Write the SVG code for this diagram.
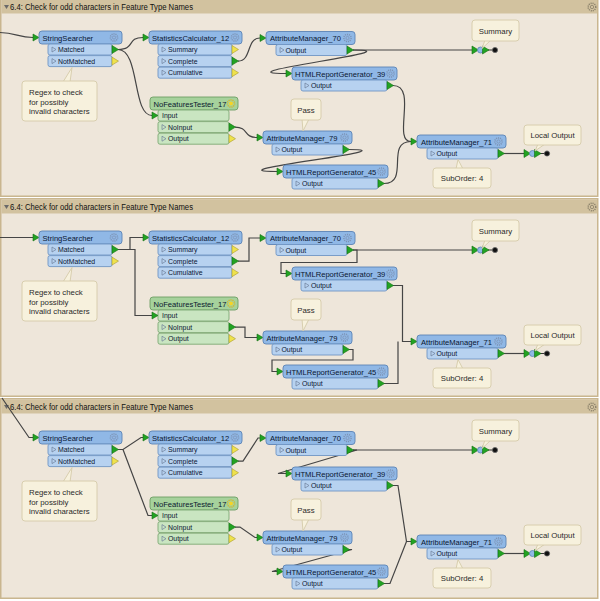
<svg xmlns="http://www.w3.org/2000/svg" width="600" height="601" viewBox="0 0 600 601">
<style>
.pbg{fill:#eee6da;stroke:#c9b68f;stroke-width:1.5}
.tbar{fill:#d2c29f}
.ttl{font-family:"Liberation Sans",Arial,sans-serif;font-size:8.3px;fill:#111}
.hb{fill:#90b8e6;stroke:#5b83b5;stroke-width:0.9}
.pb{fill:#b7d2f0;stroke:#6f95c4;stroke-width:0.9}
.ghb{fill:#a6d29c;stroke:#6e9e64;stroke-width:0.9}
.gpb{fill:#c9e5c1;stroke:#7ea874;stroke-width:0.9}
.ht{font-family:"Liberation Sans",Arial,sans-serif;font-size:7.6px;fill:#0a1630}
.pt{font-family:"Liberation Sans",Arial,sans-serif;font-size:6.9px;fill:#0a1630}
.an{fill:#f7f1dd;stroke:#d5cba9;stroke-width:0.9}
.at{font-family:"Liberation Sans",Arial,sans-serif;font-size:7.8px;fill:#2a2a2a}
.cn{fill:none;stroke:#454545;stroke-width:1.2}
</style>
<defs>
<path id="og" d="M0,-4 L6.5,0 L0,4Z" fill="#22a322" stroke="#146e14" stroke-width="0.6"/>
<path id="oy" d="M0,-4 L6.5,0 L0,4Z" fill="#efe24c" stroke="#a89c2e" stroke-width="0.6"/>
<path id="ig" d="M-6,-3.5 L0,0 L-6,3.5Z" fill="#22a322" stroke="#146e14" stroke-width="0.6"/>
<path id="tri" d="M0,-2.5 L4,0 L0,2.5Z" fill="none" stroke="#6d7e99" stroke-width="0.7"/>
<g id="gear" fill="none" stroke="#7d93b5"><circle r="3.6" stroke-width="1.5" stroke-dasharray="1.1 0.9"/><circle r="1.6" stroke-width="0.8"/></g>
<g id="pgear" fill="none" stroke="#8a806a"><circle r="3.8" stroke-width="1.5" stroke-dasharray="1.1 0.9"/><circle r="1.7" stroke-width="0.8"/></g>
<g id="sun"><circle r="3.6" fill="none" stroke="#d4b52a" stroke-width="1.5" stroke-dasharray="1.1 0.9"/><circle r="2" fill="#f4d428"/></g>
<g id="term">
<line x1="16" y1="0" x2="21" y2="0" stroke="#333" stroke-width="1"/>
<use href="#og" x="0" y="0"/>
<circle cx="8.5" cy="0" r="3" fill="#90b8e6" stroke="#5b83b5" stroke-width="0.8"/>
<use href="#og" x="10.5" y="0"/>
<circle cx="23" cy="0" r="2.6" fill="#111" stroke="#666" stroke-width="0.8"/>
</g>
</defs>
<rect x="0" y="0" width="600" height="601" fill="#ffffff"/>

<!-- ================= PANEL 1 ================= -->
<g id="panel1">
<rect class="pbg" x="0.75" y="-1.25" width="597" height="197.5"/>
<rect class="tbar" x="1.5" y="-0.5" width="595.5" height="14"/>
<path d="M4,5 L9,5 L6.5,9Z" fill="#6a6a6a"/>
<text class="ttl" x="10" y="10" textLength="183" lengthAdjust="spacingAndGlyphs">6.4: Check for odd characters in Feature Type Names</text>
<use href="#pgear" x="592" y="7"/>
<g id="p1-connectors" class="cn">
<path d="M0,32.5 C16,32.5 18,37.5 33,37.5"/>
<path d="M118,49.5 C136,49.5 126,37.5 143,37.5"/>
<path d="M118,49.5 C140,49.5 132,115.5 152,115.5"/>
<path d="M238,61.1 C252,61.1 246,38 260,38"/>
<path d="M235,127.1 C249,127.1 243,137.5 257,137.5"/>
<path d="M353,50 L472,50"/>
<path d="M353,50 C420,50 215,73.5 286,73.5"/>
<path d="M349,149.5 C415,149.5 205,171.5 277,171.5"/>
<path d="M393,85.5 C418,85.5 392,141.5 411,141.5"/>
<path d="M384,183.5 C410,183.5 385,141.5 411,141.5"/>
<path d="M504,153.5 L524,153.5"/>
</g>
<g id="p1-stringsearcher">
<use href="#ig" x="39" y="37.5"/>
<rect class="hb" x="39" y="31" width="83" height="13" rx="3"/>
<text class="ht" x="42.5" y="40.5">StringSearcher</text>
<use href="#gear" x="114" y="37.5"/>
<rect class="pb" x="48" y="44" width="64" height="11" rx="2"/>
<use href="#tri" x="52" y="49.5"/>
<text class="pt" x="58" y="52.1">Matched</text>
<use href="#og" x="112" y="49.5"/>
<rect class="pb" x="48" y="55.6" width="64" height="11" rx="2"/>
<use href="#tri" x="52" y="61.1"/>
<text class="pt" x="58" y="63.7">NotMatched</text>
<use href="#oy" x="112" y="61.1"/>
</g>
<g id="p1-statisticscalculator12">
<use href="#ig" x="149" y="37.5"/>
<rect class="hb" x="149" y="31" width="93" height="13" rx="3"/>
<text class="ht" x="152" y="40.5">StatisticsCalculator_12</text>
<use href="#gear" x="235" y="37.5"/>
<rect class="pb" x="158" y="44" width="74" height="11" rx="2"/>
<use href="#tri" x="162" y="49.5"/>
<text class="pt" x="168" y="52.1">Summary</text>
<use href="#oy" x="232" y="49.5"/>
<rect class="pb" x="158" y="55.6" width="74" height="11" rx="2"/>
<use href="#tri" x="162" y="61.1"/>
<text class="pt" x="168" y="63.7">Complete</text>
<use href="#og" x="232" y="61.1"/>
<rect class="pb" x="158" y="67.2" width="74" height="11" rx="2"/>
<use href="#tri" x="162" y="72.7"/>
<text class="pt" x="168" y="75.3">Cumulative</text>
<use href="#oy" x="232" y="72.7"/>
</g>
<g id="p1-nofeaturestester17">
<rect class="ghb" x="150" y="97" width="88" height="13" rx="3"/>
<text class="ht" x="153.5" y="106.5">NoFeaturesTester_17</text>
<use href="#sun" x="231" y="103.5"/>
<rect class="gpb" x="158" y="110" width="71" height="11" rx="2"/>
<use href="#ig" x="158" y="115.5"/>
<text class="pt" x="162" y="118.1">Input</text>
<rect class="gpb" x="158" y="121.6" width="71" height="11" rx="2"/>
<use href="#tri" x="162" y="127.1"/>
<text class="pt" x="168" y="129.7">NoInput</text>
<use href="#og" x="229" y="127.1"/>
<rect class="gpb" x="158" y="133.2" width="71" height="11" rx="2"/>
<use href="#tri" x="162" y="138.7"/>
<text class="pt" x="168" y="141.3">Output</text>
<use href="#oy" x="229" y="138.7"/>
</g>
<g id="p1-attributemanager70">
<use href="#ig" x="266" y="38"/>
<rect class="hb" x="266" y="31.5" width="89" height="13" rx="3"/>
<text class="ht" x="270" y="41">AttributeManager_70</text>
<use href="#gear" x="347.5" y="38"/>
<rect class="pb" x="276" y="44.5" width="71" height="11" rx="2"/>
<use href="#tri" x="280" y="50"/>
<text class="pt" x="285.5" y="52.6">Output</text>
<use href="#og" x="347" y="50"/>
</g>
<g id="p1-htmlreportgenerator39">
<use href="#ig" x="292" y="73.5"/>
<rect class="hb" x="292" y="67" width="105" height="13" rx="3"/>
<text class="ht" x="295" y="76.5">HTMLReportGenerator_39</text>
<use href="#gear" x="390.5" y="73.5"/>
<rect class="pb" x="301" y="80" width="86" height="11" rx="2"/>
<use href="#tri" x="305" y="85.5"/>
<text class="pt" x="311" y="88.1">Output</text>
<use href="#og" x="387" y="85.5"/>
</g>
<g id="p1-attributemanager79">
<use href="#ig" x="263" y="137.5"/>
<rect class="hb" x="263" y="131" width="89" height="13" rx="3"/>
<text class="ht" x="266.5" y="140.5">AttributeManager_79</text>
<use href="#gear" x="344.5" y="137.5"/>
<rect class="pb" x="272" y="144" width="71" height="11" rx="2"/>
<use href="#tri" x="276" y="149.5"/>
<text class="pt" x="281.5" y="152.1">Output</text>
<use href="#og" x="343" y="149.5"/>
</g>
<g id="p1-htmlreportgenerator45">
<use href="#ig" x="283" y="171.5"/>
<rect class="hb" x="283" y="165" width="105" height="13" rx="3"/>
<text class="ht" x="286" y="174.5">HTMLReportGenerator_45</text>
<use href="#gear" x="381.5" y="171.5"/>
<rect class="pb" x="292" y="178" width="86" height="11" rx="2"/>
<use href="#tri" x="296" y="183.5"/>
<text class="pt" x="302" y="186.1">Output</text>
<use href="#og" x="378" y="183.5"/>
</g>
<g id="p1-attributemanager71">
<use href="#ig" x="417" y="141.5"/>
<rect class="hb" x="417" y="135" width="89" height="13" rx="3"/>
<text class="ht" x="421" y="144.5">AttributeManager_71</text>
<use href="#gear" x="498.5" y="141.5"/>
<rect class="pb" x="427" y="148" width="71" height="11" rx="2"/>
<use href="#tri" x="431" y="153.5"/>
<text class="pt" x="436.5" y="156.1">Output</text>
<use href="#og" x="498" y="153.5"/>
</g>
<g id="p1-summary-output"><use href="#term" x="472" y="50"/></g>
<g id="p1-local-output"><use href="#term" x="524" y="153.5"/></g>
<g id="p1-note-regex">
<path class="an" d="M63,82 L72,67.5 L70,82Z"/>
<rect class="an" x="22" y="81" width="75" height="40" rx="3"/>
<text class="at" x="29" y="95">Regex to check</text>
<text class="at" x="29" y="104.7">for possibly</text>
<text class="at" x="29" y="114.4">invalid characters</text>
</g>
<g id="p1-note-summary">
<path class="an" d="M485,40 L482,48.5 L491,40Z"/>
<rect class="an" x="472" y="20" width="47" height="21" rx="3"/>
<text class="at" x="495.5" y="34" text-anchor="middle">Summary</text>
</g>
<g id="p1-note-pass">
<path class="an" d="M302,119 L303,131 L309,119Z"/>
<rect class="an" x="291" y="99" width="30" height="21" rx="3"/>
<text class="at" x="306" y="113" text-anchor="middle">Pass</text>
</g>
<g id="p1-note-localoutput">
<path class="an" d="M538,144 L535,151 L545,144Z"/>
<rect class="an" x="524" y="125" width="57" height="20" rx="3"/>
<text class="at" x="552.5" y="138" text-anchor="middle">Local Output</text>
</g>
<g id="p1-note-suborder">
<path class="an" d="M456,169 L458,159.5 L463,169Z"/>
<rect class="an" x="433" y="168" width="58" height="20" rx="3"/>
<text class="at" x="462" y="181" text-anchor="middle">SubOrder: 4</text>
</g>
</g>

<!-- ================= PANEL 2 ================= -->
<g id="panel2" transform="translate(0,200)">
<rect class="pbg" x="0.75" y="-1.25" width="597" height="197.5"/>
<rect class="tbar" x="1.5" y="-0.5" width="595.5" height="14"/>
<path d="M4,5 L9,5 L6.5,9Z" fill="#6a6a6a"/>
<text class="ttl" x="10" y="10" textLength="183" lengthAdjust="spacingAndGlyphs">6.4: Check for odd characters in Feature Type Names</text>
<use href="#pgear" x="592" y="7"/>
<g id="p2-connectors" class="cn">
<path d="M0,37.5 L33,37.5"/>
<path d="M118,49.5 L130,49.5 L130,37.5 L143,37.5"/>
<path d="M118,49.5 L135,49.5 L135,115.5 L152,115.5"/>
<path d="M238,61.1 L249,61.1 L249,38 L260,38"/>
<path d="M235,127.1 L245,127.1 L245,137.5 L257,137.5"/>
<path d="M353,50 L472,50"/>
<path d="M353,50 L357,50 L357,62.5 L281,62.5 L281,73.5 L286,73.5"/>
<path d="M349,149.5 L353,149.5 L353,160 L272,160 L272,171.5 L277,171.5"/>
<path d="M393,85.5 L402.5,85.5 L402.5,141.5 L411,141.5"/>
<path d="M384,183.5 L398,183.5 L398,141.5"/>
<path d="M504,153.5 L524,153.5"/>
</g>
<g id="p2-stringsearcher">
<use href="#ig" x="39" y="37.5"/>
<rect class="hb" x="39" y="31" width="83" height="13" rx="3"/>
<text class="ht" x="42.5" y="40.5">StringSearcher</text>
<use href="#gear" x="114" y="37.5"/>
<rect class="pb" x="48" y="44" width="64" height="11" rx="2"/>
<use href="#tri" x="52" y="49.5"/>
<text class="pt" x="58" y="52.1">Matched</text>
<use href="#og" x="112" y="49.5"/>
<rect class="pb" x="48" y="55.6" width="64" height="11" rx="2"/>
<use href="#tri" x="52" y="61.1"/>
<text class="pt" x="58" y="63.7">NotMatched</text>
<use href="#oy" x="112" y="61.1"/>
</g>
<g id="p2-statisticscalculator12">
<use href="#ig" x="149" y="37.5"/>
<rect class="hb" x="149" y="31" width="93" height="13" rx="3"/>
<text class="ht" x="152" y="40.5">StatisticsCalculator_12</text>
<use href="#gear" x="235" y="37.5"/>
<rect class="pb" x="158" y="44" width="74" height="11" rx="2"/>
<use href="#tri" x="162" y="49.5"/>
<text class="pt" x="168" y="52.1">Summary</text>
<use href="#oy" x="232" y="49.5"/>
<rect class="pb" x="158" y="55.6" width="74" height="11" rx="2"/>
<use href="#tri" x="162" y="61.1"/>
<text class="pt" x="168" y="63.7">Complete</text>
<use href="#og" x="232" y="61.1"/>
<rect class="pb" x="158" y="67.2" width="74" height="11" rx="2"/>
<use href="#tri" x="162" y="72.7"/>
<text class="pt" x="168" y="75.3">Cumulative</text>
<use href="#oy" x="232" y="72.7"/>
</g>
<g id="p2-nofeaturestester17">
<rect class="ghb" x="150" y="97" width="88" height="13" rx="3"/>
<text class="ht" x="153.5" y="106.5">NoFeaturesTester_17</text>
<use href="#sun" x="231" y="103.5"/>
<rect class="gpb" x="158" y="110" width="71" height="11" rx="2"/>
<use href="#ig" x="158" y="115.5"/>
<text class="pt" x="162" y="118.1">Input</text>
<rect class="gpb" x="158" y="121.6" width="71" height="11" rx="2"/>
<use href="#tri" x="162" y="127.1"/>
<text class="pt" x="168" y="129.7">NoInput</text>
<use href="#og" x="229" y="127.1"/>
<rect class="gpb" x="158" y="133.2" width="71" height="11" rx="2"/>
<use href="#tri" x="162" y="138.7"/>
<text class="pt" x="168" y="141.3">Output</text>
<use href="#oy" x="229" y="138.7"/>
</g>
<g id="p2-attributemanager70">
<use href="#ig" x="266" y="38"/>
<rect class="hb" x="266" y="31.5" width="89" height="13" rx="3"/>
<text class="ht" x="270" y="41">AttributeManager_70</text>
<use href="#gear" x="347.5" y="38"/>
<rect class="pb" x="276" y="44.5" width="71" height="11" rx="2"/>
<use href="#tri" x="280" y="50"/>
<text class="pt" x="285.5" y="52.6">Output</text>
<use href="#og" x="347" y="50"/>
</g>
<g id="p2-htmlreportgenerator39">
<use href="#ig" x="292" y="73.5"/>
<rect class="hb" x="292" y="67" width="105" height="13" rx="3"/>
<text class="ht" x="295" y="76.5">HTMLReportGenerator_39</text>
<use href="#gear" x="390.5" y="73.5"/>
<rect class="pb" x="301" y="80" width="86" height="11" rx="2"/>
<use href="#tri" x="305" y="85.5"/>
<text class="pt" x="311" y="88.1">Output</text>
<use href="#og" x="387" y="85.5"/>
</g>
<g id="p2-attributemanager79">
<use href="#ig" x="263" y="137.5"/>
<rect class="hb" x="263" y="131" width="89" height="13" rx="3"/>
<text class="ht" x="266.5" y="140.5">AttributeManager_79</text>
<use href="#gear" x="344.5" y="137.5"/>
<rect class="pb" x="272" y="144" width="71" height="11" rx="2"/>
<use href="#tri" x="276" y="149.5"/>
<text class="pt" x="281.5" y="152.1">Output</text>
<use href="#og" x="343" y="149.5"/>
</g>
<g id="p2-htmlreportgenerator45">
<use href="#ig" x="283" y="171.5"/>
<rect class="hb" x="283" y="165" width="105" height="13" rx="3"/>
<text class="ht" x="286" y="174.5">HTMLReportGenerator_45</text>
<use href="#gear" x="381.5" y="171.5"/>
<rect class="pb" x="292" y="178" width="86" height="11" rx="2"/>
<use href="#tri" x="296" y="183.5"/>
<text class="pt" x="302" y="186.1">Output</text>
<use href="#og" x="378" y="183.5"/>
</g>
<g id="p2-attributemanager71">
<use href="#ig" x="417" y="141.5"/>
<rect class="hb" x="417" y="135" width="89" height="13" rx="3"/>
<text class="ht" x="421" y="144.5">AttributeManager_71</text>
<use href="#gear" x="498.5" y="141.5"/>
<rect class="pb" x="427" y="148" width="71" height="11" rx="2"/>
<use href="#tri" x="431" y="153.5"/>
<text class="pt" x="436.5" y="156.1">Output</text>
<use href="#og" x="498" y="153.5"/>
</g>
<g id="p2-summary-output"><use href="#term" x="472" y="50"/></g>
<g id="p2-local-output"><use href="#term" x="524" y="153.5"/></g>
<g id="p2-note-regex">
<path class="an" d="M63,82 L72,67.5 L70,82Z"/>
<rect class="an" x="22" y="81" width="75" height="40" rx="3"/>
<text class="at" x="29" y="95">Regex to check</text>
<text class="at" x="29" y="104.7">for possibly</text>
<text class="at" x="29" y="114.4">invalid characters</text>
</g>
<g id="p2-note-summary">
<path class="an" d="M485,40 L482,48.5 L491,40Z"/>
<rect class="an" x="472" y="20" width="47" height="21" rx="3"/>
<text class="at" x="495.5" y="34" text-anchor="middle">Summary</text>
</g>
<g id="p2-note-pass">
<path class="an" d="M302,119 L303,131 L309,119Z"/>
<rect class="an" x="291" y="99" width="30" height="21" rx="3"/>
<text class="at" x="306" y="113" text-anchor="middle">Pass</text>
</g>
<g id="p2-note-localoutput">
<path class="an" d="M538,144 L535,151 L545,144Z"/>
<rect class="an" x="524" y="125" width="57" height="20" rx="3"/>
<text class="at" x="552.5" y="138" text-anchor="middle">Local Output</text>
</g>
<g id="p2-note-suborder">
<path class="an" d="M456,169 L458,159.5 L463,169Z"/>
<rect class="an" x="433" y="168" width="58" height="20" rx="3"/>
<text class="at" x="462" y="181" text-anchor="middle">SubOrder: 4</text>
</g>
</g>

<!-- ================= PANEL 3 ================= -->
<g id="panel3" transform="translate(0,400)">
<rect class="pbg" x="0.75" y="-1.25" width="597" height="199.5"/>
<rect class="tbar" x="1.5" y="-0.5" width="595.5" height="14"/>
<path d="M4,5 L9,5 L6.5,9Z" fill="#6a6a6a"/>
<text class="ttl" x="10" y="10" textLength="183" lengthAdjust="spacingAndGlyphs">6.4: Check for odd characters in Feature Type Names</text>
<use href="#pgear" x="592" y="7"/>
<g id="p3-connectors" class="cn">
<path d="M2,-2 L29,37.5 L33,37.5"/>
<path d="M118,49.5 L123,49.5 L141,37.5 L143,37.5"/>
<path d="M123,49.5 L148,115.5 L152,115.5"/>
<path d="M238,61.1 L243,61.1 L258,38 L260,38"/>
<path d="M235,127.1 L240,127.1 L255,137.5 L257,137.5"/>
<path d="M353,50 L472,50"/>
<path d="M353,50 L357,50 L278,73.5 L286,73.5"/>
<path d="M349,149.5 L352,149.5 L272,171.5 L277,171.5"/>
<path d="M393,85.5 L398,85.5 L406.5,141.5 L411,141.5"/>
<path d="M384,183.5 L390,183.5 L406.5,141.5"/>
<path d="M504,153.5 L524,153.5"/>
</g>
<g id="p3-stringsearcher">
<use href="#ig" x="39" y="37.5"/>
<rect class="hb" x="39" y="31" width="83" height="13" rx="3"/>
<text class="ht" x="42.5" y="40.5">StringSearcher</text>
<use href="#gear" x="114" y="37.5"/>
<rect class="pb" x="48" y="44" width="64" height="11" rx="2"/>
<use href="#tri" x="52" y="49.5"/>
<text class="pt" x="58" y="52.1">Matched</text>
<use href="#og" x="112" y="49.5"/>
<rect class="pb" x="48" y="55.6" width="64" height="11" rx="2"/>
<use href="#tri" x="52" y="61.1"/>
<text class="pt" x="58" y="63.7">NotMatched</text>
<use href="#oy" x="112" y="61.1"/>
</g>
<g id="p3-statisticscalculator12">
<use href="#ig" x="149" y="37.5"/>
<rect class="hb" x="149" y="31" width="93" height="13" rx="3"/>
<text class="ht" x="152" y="40.5">StatisticsCalculator_12</text>
<use href="#gear" x="235" y="37.5"/>
<rect class="pb" x="158" y="44" width="74" height="11" rx="2"/>
<use href="#tri" x="162" y="49.5"/>
<text class="pt" x="168" y="52.1">Summary</text>
<use href="#oy" x="232" y="49.5"/>
<rect class="pb" x="158" y="55.6" width="74" height="11" rx="2"/>
<use href="#tri" x="162" y="61.1"/>
<text class="pt" x="168" y="63.7">Complete</text>
<use href="#og" x="232" y="61.1"/>
<rect class="pb" x="158" y="67.2" width="74" height="11" rx="2"/>
<use href="#tri" x="162" y="72.7"/>
<text class="pt" x="168" y="75.3">Cumulative</text>
<use href="#oy" x="232" y="72.7"/>
</g>
<g id="p3-nofeaturestester17">
<rect class="ghb" x="150" y="97" width="88" height="13" rx="3"/>
<text class="ht" x="153.5" y="106.5">NoFeaturesTester_17</text>
<use href="#sun" x="231" y="103.5"/>
<rect class="gpb" x="158" y="110" width="71" height="11" rx="2"/>
<use href="#ig" x="158" y="115.5"/>
<text class="pt" x="162" y="118.1">Input</text>
<rect class="gpb" x="158" y="121.6" width="71" height="11" rx="2"/>
<use href="#tri" x="162" y="127.1"/>
<text class="pt" x="168" y="129.7">NoInput</text>
<use href="#og" x="229" y="127.1"/>
<rect class="gpb" x="158" y="133.2" width="71" height="11" rx="2"/>
<use href="#tri" x="162" y="138.7"/>
<text class="pt" x="168" y="141.3">Output</text>
<use href="#oy" x="229" y="138.7"/>
</g>
<g id="p3-attributemanager70">
<use href="#ig" x="266" y="38"/>
<rect class="hb" x="266" y="31.5" width="89" height="13" rx="3"/>
<text class="ht" x="270" y="41">AttributeManager_70</text>
<use href="#gear" x="347.5" y="38"/>
<rect class="pb" x="276" y="44.5" width="71" height="11" rx="2"/>
<use href="#tri" x="280" y="50"/>
<text class="pt" x="285.5" y="52.6">Output</text>
<use href="#og" x="347" y="50"/>
</g>
<g id="p3-htmlreportgenerator39">
<use href="#ig" x="292" y="73.5"/>
<rect class="hb" x="292" y="67" width="105" height="13" rx="3"/>
<text class="ht" x="295" y="76.5">HTMLReportGenerator_39</text>
<use href="#gear" x="390.5" y="73.5"/>
<rect class="pb" x="301" y="80" width="86" height="11" rx="2"/>
<use href="#tri" x="305" y="85.5"/>
<text class="pt" x="311" y="88.1">Output</text>
<use href="#og" x="387" y="85.5"/>
</g>
<g id="p3-attributemanager79">
<use href="#ig" x="263" y="137.5"/>
<rect class="hb" x="263" y="131" width="89" height="13" rx="3"/>
<text class="ht" x="266.5" y="140.5">AttributeManager_79</text>
<use href="#gear" x="344.5" y="137.5"/>
<rect class="pb" x="272" y="144" width="71" height="11" rx="2"/>
<use href="#tri" x="276" y="149.5"/>
<text class="pt" x="281.5" y="152.1">Output</text>
<use href="#og" x="343" y="149.5"/>
</g>
<g id="p3-htmlreportgenerator45">
<use href="#ig" x="283" y="171.5"/>
<rect class="hb" x="283" y="165" width="105" height="13" rx="3"/>
<text class="ht" x="286" y="174.5">HTMLReportGenerator_45</text>
<use href="#gear" x="381.5" y="171.5"/>
<rect class="pb" x="292" y="178" width="86" height="11" rx="2"/>
<use href="#tri" x="296" y="183.5"/>
<text class="pt" x="302" y="186.1">Output</text>
<use href="#og" x="378" y="183.5"/>
</g>
<g id="p3-attributemanager71">
<use href="#ig" x="417" y="141.5"/>
<rect class="hb" x="417" y="135" width="89" height="13" rx="3"/>
<text class="ht" x="421" y="144.5">AttributeManager_71</text>
<use href="#gear" x="498.5" y="141.5"/>
<rect class="pb" x="427" y="148" width="71" height="11" rx="2"/>
<use href="#tri" x="431" y="153.5"/>
<text class="pt" x="436.5" y="156.1">Output</text>
<use href="#og" x="498" y="153.5"/>
</g>
<g id="p3-summary-output"><use href="#term" x="472" y="50"/></g>
<g id="p3-local-output"><use href="#term" x="524" y="153.5"/></g>
<g id="p3-note-regex">
<path class="an" d="M63,82 L72,67.5 L70,82Z"/>
<rect class="an" x="22" y="81" width="75" height="40" rx="3"/>
<text class="at" x="29" y="95">Regex to check</text>
<text class="at" x="29" y="104.7">for possibly</text>
<text class="at" x="29" y="114.4">invalid characters</text>
</g>
<g id="p3-note-summary">
<path class="an" d="M485,40 L482,48.5 L491,40Z"/>
<rect class="an" x="472" y="20" width="47" height="21" rx="3"/>
<text class="at" x="495.5" y="34" text-anchor="middle">Summary</text>
</g>
<g id="p3-note-pass">
<path class="an" d="M302,119 L303,131 L309,119Z"/>
<rect class="an" x="291" y="99" width="30" height="21" rx="3"/>
<text class="at" x="306" y="113" text-anchor="middle">Pass</text>
</g>
<g id="p3-note-localoutput">
<path class="an" d="M538,144 L535,151 L545,144Z"/>
<rect class="an" x="524" y="125" width="57" height="20" rx="3"/>
<text class="at" x="552.5" y="138" text-anchor="middle">Local Output</text>
</g>
<g id="p3-note-suborder">
<path class="an" d="M456,169 L458,159.5 L463,169Z"/>
<rect class="an" x="433" y="168" width="58" height="20" rx="3"/>
<text class="at" x="462" y="181" text-anchor="middle">SubOrder: 4</text>
</g>
</g>
</svg>
